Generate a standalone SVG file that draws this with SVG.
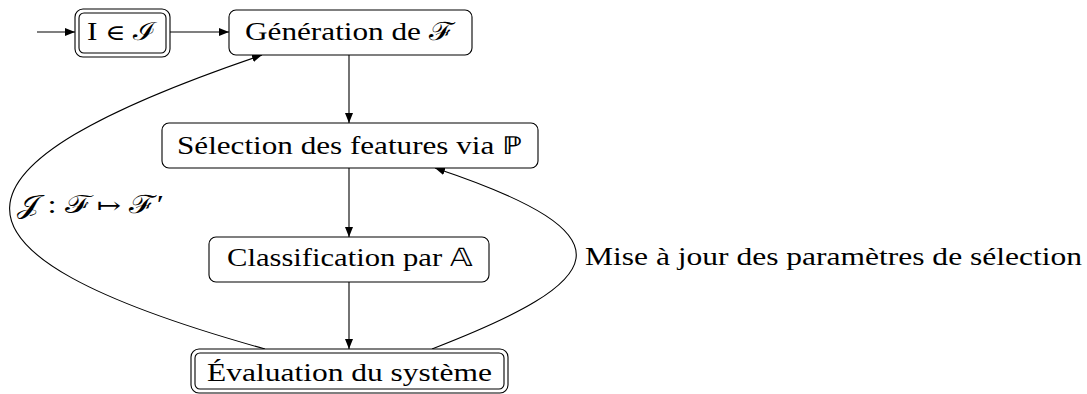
<svg xmlns="http://www.w3.org/2000/svg" width="1087" height="394" viewBox="0 0 1087 394">
  <style>
    .box { fill: #ffffff; stroke: #000000; stroke-width: 1.1; }
    .edge { fill: none; stroke: #000000; stroke-width: 1.1; }
    .lbl { font-family: "Liberation Serif", serif; font-size: 25px; fill: #000000; }
    .op { font-family: "DejaVu Serif", serif; font-size: 22px; }
  </style>
  <defs>
    <marker id="arrow" viewBox="0 0 10 8" refX="10" refY="4" markerWidth="10" markerHeight="8" markerUnits="userSpaceOnUse" orient="auto">
      <path d="M0,0 L10,4 L0,8 Z" fill="#000000"/>
    </marker>
  </defs>
  <rect width="1087" height="394" fill="#ffffff"/>

  <!-- connectors -->
  <g id="connectors">
    <line class="edge" x1="37" y1="32" x2="75" y2="32" marker-end="url(#arrow)"/>
    <line class="edge" x1="170" y1="32" x2="229" y2="32" marker-end="url(#arrow)"/>
    <line class="edge" x1="349" y1="55" x2="349" y2="123" marker-end="url(#arrow)"/>
    <line class="edge" x1="349" y1="168" x2="349" y2="237" marker-end="url(#arrow)"/>
    <line class="edge" x1="349" y1="282" x2="349" y2="349" marker-end="url(#arrow)"/>
    <path class="edge" d="M265,349 C-82,252 -68,167 262,55" marker-end="url(#arrow)"/>
    <path class="edge" d="M432,349 C608,281 639,236 435,168" marker-end="url(#arrow)"/>
    <text class="lbl" x="17" y="213" textLength="147" lengthAdjust="spacingAndGlyphs">𝒥 : ℱ <tspan class="op">↦</tspan> ℱ′</text>
    <text class="lbl" x="585" y="265" textLength="497" lengthAdjust="spacingAndGlyphs">Mise à jour des paramètres de sélection</text>
  </g>

  <!-- start node -->
  <g id="start">
    <rect class="box" x="75" y="9" width="95" height="48" rx="8"/>
    <rect class="box" x="79" y="13" width="87" height="40" rx="5"/>
    <text class="lbl" x="87" y="40" textLength="70" lengthAdjust="spacingAndGlyphs">I <tspan class="op">∈</tspan> ℐ</text>
  </g>

  <g id="generation">
    <rect class="box" x="229" y="10" width="243" height="45" rx="7"/>
    <text class="lbl" x="245" y="40" textLength="210" lengthAdjust="spacingAndGlyphs">Génération de ℱ</text>
  </g>

  <g id="selection">
    <rect class="box" x="162" y="123" width="376" height="45" rx="7"/>
    <text class="lbl" x="177" y="154" textLength="345" lengthAdjust="spacingAndGlyphs">Sélection des features via ℙ</text>
  </g>

  <g id="classification">
    <rect class="box" x="209" y="237" width="280" height="45" rx="7"/>
    <text class="lbl" x="227" y="266" textLength="246" lengthAdjust="spacingAndGlyphs">Classification par 𝔸</text>
  </g>

  <g id="evaluation">
    <rect class="box" x="191" y="349" width="317" height="44" rx="8"/>
    <rect class="box" x="195" y="353" width="309" height="36" rx="5"/>
    <text class="lbl" x="207" y="381" textLength="285" lengthAdjust="spacingAndGlyphs">Évaluation du système</text>
  </g>
</svg>
